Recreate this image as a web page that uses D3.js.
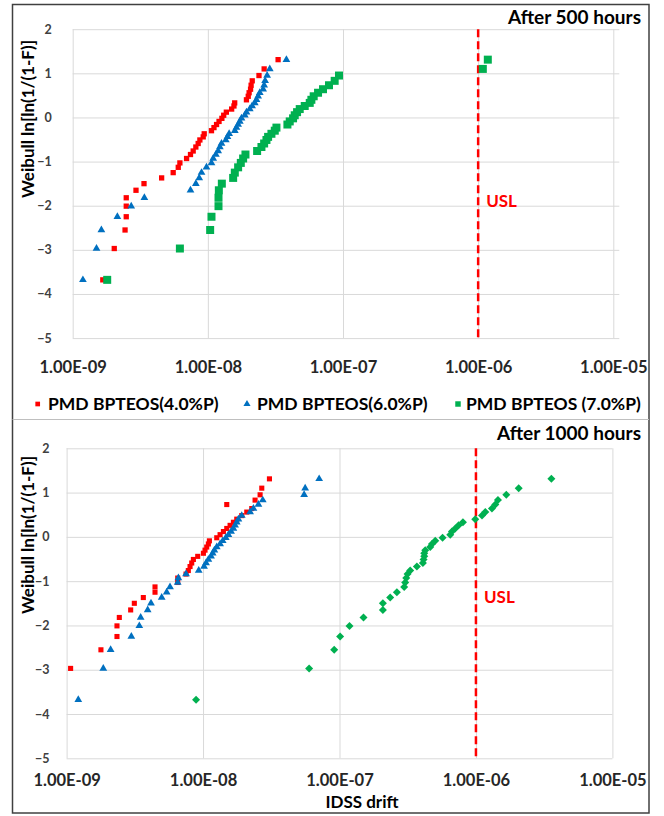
<!DOCTYPE html>
<html><head><meta charset="utf-8">
<script src="https://cdn.jsdelivr.net/npm/d3@7"></script>
<style>
html,body{margin:0;padding:0;background:#fff;}
svg{display:block;}
text{font-family:Lato,"Liberation Sans",Arial,sans-serif;font-weight:bold;}
</style></head>
<body>
<svg id="chart" width="664" height="816"></svg>
<script>
// ---------- DATA ----------
const xTickValues = [1e-9, 1e-8, 1e-7, 1e-6, 1e-5];
const xTickLabels = ["1.00E-09", "1.00E-08", "1.00E-07", "1.00E-06", "1.00E-05"];
const yTickValues = [2, 1, 0, -1, -2, -3, -4, -5];
const seriesNames = ["PMD BPTEOS(4.0%P)", "PMD BPTEOS(6.0%P)", "PMD BPTEOS (7.0%P)"];
const panelTitles = ["After 500 hours", "After 1000 hours"];
const uslValue = 1e-6;

// Weibull plotting positions ln[ln(1/(1-F))] for ranks 1..39
const weibullY = [-3.68,-2.97,-2.55,-2.25,-2.01,-1.82,-1.65,-1.50,-1.37,-1.25,-1.13,-1.03,-0.93,-0.84,-0.76,-0.67,-0.59,-0.51,-0.44,-0.37,-0.30,-0.23,-0.16,-0.09,-0.02,0.05,0.12,0.19,0.26,0.33,0.40,0.48,0.56,0.64,0.73,0.83,0.95,1.10,1.31];

// After 500 hours – IDSS drift
const red500 = [1.67e-9,2.03e-9,2.44e-9,2.49e-9,2.49e-9,2.49e-9,2.94e-9,3.37e-9,4.55e-9,5.54e-9,6.04e-9,6.21e-9,6.96e-9,7.44e-9,7.79e-9,8.15e-9,8.48e-9,8.73e-9,9.24e-9,9.40e-9,1.064e-8,1.11e-8,1.16e-8,1.21e-8,1.27e-8,1.31e-8,1.37e-8,1.50e-8,1.56e-8,1.58e-8,1.93e-8,1.99e-8,2.02e-8,2.07e-8,2.09e-8,2.13e-8,2.39e-8,2.61e-8,3.31e-8];
const blue500 = [1.19e-9,1.50e-9,1.63e-9,2.14e-9,2.71e-9,3.39e-9,7.44e-9,8.15e-9,8.63e-9,8.98e-9,9.77e-9,1.064e-8,1.095e-8,1.146e-8,1.192e-8,1.227e-8,1.262e-8,1.358e-8,1.397e-8,1.437e-8,1.583e-8,1.628e-8,1.675e-8,1.724e-8,1.773e-8,1.877e-8,1.931e-8,2.043e-8,2.126e-8,2.225e-8,2.289e-8,2.354e-8,2.422e-8,2.564e-8,2.609e-8,2.653e-8,2.745e-8,2.872e-8,3.813e-8];
const green500 = [1.80e-9,6.21e-9,1.040e-8,1.064e-8,1.199e-8,1.199e-8,1.206e-8,1.269e-8,1.539e-8,1.583e-8,1.675e-8,1.753e-8,1.824e-8,1.898e-8,2.315e-8,2.492e-8,2.609e-8,2.714e-8,2.792e-8,2.954e-8,3.127e-8,3.217e-8,3.879e-8,4.035e-8,4.271e-8,4.394e-8,4.572e-8,4.784e-8,5.21e-8,5.673e-8,5.834e-8,6.07e-8,6.537e-8,7.116e-8,7.88e-8,8.677e-8,9.342e-8,1.083e-6,1.179e-6];

// After 1000 hours – IDSS drift (first red value lies below the axis minimum)
const red1000 = [null,1.07e-9,1.785e-9,2.34e-9,2.34e-9,2.434e-9,2.948e-9,3.136e-9,3.65e-9,4.446e-9,4.446e-9,6.52e-9,6.52e-9,7.505e-9,7.80e-9,8.03e-9,8.26e-9,8.495e-9,9.14e-9,1.006e-8,1.034e-8,1.064e-8,1.094e-8,1.113e-8,1.26e-8,1.333e-8,1.41e-8,1.492e-8,1.578e-8,1.669e-8,1.766e-8,1.921e-8,2.091e-8,2.275e-8,1.492e-8,2.406e-8,2.619e-8,2.694e-8,3.066e-8];
const blue1000 = [1.218e-9,1.857e-9,2.102e-9,2.981e-9,3.412e-9,3.49e-9,3.928e-9,4.155e-9,4.976e-9,5.414e-9,5.727e-9,6.52e-9,6.594e-9,7.505e-9,9.295e-9,1.017e-8,1.052e-8,1.094e-8,1.145e-8,1.177e-8,1.211e-8,1.26e-8,1.333e-8,1.394e-8,1.467e-8,1.534e-8,1.605e-8,1.669e-8,1.717e-8,1.766e-8,1.816e-8,1.921e-8,2.212e-8,2.34e-8,2.546e-8,2.74e-8,5.506e-8,5.601e-8,7.095e-8];
const green1000 = [8.886e-9,5.99e-8,9.14e-8,1.011e-7,1.184e-7,1.5e-7,2.079e-7,2.079e-7,2.352e-7,2.633e-7,2.98e-7,3.031e-7,3.083e-7,3.153e-7,3.298e-7,3.691e-7,4.085e-7,4.132e-7,4.178e-7,4.178e-7,4.249e-7,4.624e-7,4.757e-7,5.032e-7,5.695e-7,6.481e-7,6.668e-7,7.053e-7,7.463e-7,8.028e-7,9.887e-7,1.107e-6,1.171e-6,1.31e-6,1.386e-6,1.45e-6,1.669e-6,2.056e-6,3.569e-6];

// ---------- STYLE ----------
const RED = "#FF0000", BLUE = "#0070C0", GREEN = "#00B050";
const GRID = "#D9D9D9";

const panels = [
  { title: panelTitles[0], titleY: 24, left: 72.7, right: 613.3, top: 29.2, bottom: 338.1, gridOver: 6,
    xLabelY: 372, uslLabelY: 207, yLabelGap: 21, yTitleCy: 119,
    series: [
      { values: red500, color: RED, shape: "square", size: 28 },
      { values: blue500, color: BLUE, shape: "triangle", size: 26 },
      { values: green500, color: GREEN, shape: "square", size: 64 } ] },
  { title: panelTitles[1], titleY: 440, left: 66.6, right: 612.4, top: 448.3, bottom: 758.3, gridOver: 0,
    xLabelY: 785, uslLabelY: 603, yLabelGap: 17, yTitleCy: 535,
    series: [
      { values: red1000, color: RED, shape: "square", size: 26 },
      { values: blue1000, color: BLUE, shape: "triangle", size: 26 },
      { values: green1000, color: GREEN, shape: "diamond", size: 32 } ] }
];

const svg = d3.select("#chart");
svg.append("rect").attr("width", 664).attr("height", 816).attr("fill", "#fff");

function symbolPath(shape, size) {
  if (shape === "triangle") return d3.symbol(d3.symbolTriangle, size)();
  return d3.symbol(d3.symbolSquare, size)();
}

panels.forEach((p, pi) => {
  const x = d3.scaleLog().domain([1e-9, 1e-5]).range([p.left, p.right]);
  const y = d3.scaleLinear().domain([-5, 2]).range([p.bottom, p.top]);
  const g = svg.append("g");

  // horizontal grid
  const yGrid = g.append("g").attr("transform", `translate(${p.left},0)`)
    .call(d3.axisRight(y).tickValues(yTickValues).tickSize(p.right - p.left + p.gridOver).tickFormat(""));
  yGrid.select(".domain").remove();
  yGrid.selectAll("line").attr("stroke", GRID).attr("stroke-width", 1);

  // vertical grid
  const xGrid = g.append("g").attr("transform", `translate(0,${p.top})`)
    .call(d3.axisBottom(x).tickValues(xTickValues).tickSize(p.bottom - p.top).tickFormat(""));
  xGrid.select(".domain").remove();
  xGrid.selectAll("line").attr("stroke", GRID).attr("stroke-width", 1);

  // y tick labels
  const yAx = g.append("g").attr("transform", `translate(${p.left - p.yLabelGap},0)`)
    .call(d3.axisLeft(y).tickValues(yTickValues).tickSize(0).tickPadding(0).tickFormat(d3.format("d")));
  yAx.select(".domain").remove();
  yAx.selectAll("text").attr("font-size", 12.5).attr("fill", "#404040")
    .style("font-family", "Lato, 'Liberation Sans', sans-serif").style("font-weight", "bold");

  // x tick labels
  const xAx = g.append("g").attr("transform", `translate(0,${p.xLabelY - 14})`)
    .call(d3.axisBottom(x).tickValues(xTickValues).tickSize(0).tickPadding(0)
      .tickFormat((d, i) => xTickLabels[i]));
  xAx.select(".domain").remove();
  xAx.selectAll("text").attr("font-size", 16.5).attr("fill", "#262626").attr("dy", "0.9em")
    .style("font-family", "Lato, 'Liberation Sans', sans-serif").style("font-weight", "bold");

  // USL line
  g.append("line")
    .attr("x1", x(uslValue)).attr("x2", x(uslValue))
    .attr("y1", y(2)).attr("y2", y(-5))
    .attr("stroke", RED).attr("stroke-width", 2.5).attr("stroke-dasharray", "8,4");
  g.append("text").attr("x", x(uslValue) + 8).attr("y", p.uslLabelY)
    .attr("fill", RED).attr("font-size", 17).text("USL");

  // series
  p.series.forEach(s => {
    const pts = s.values.map((v, i) => ({ v, yv: weibullY[i] }))
      .filter(d => d.v !== null && d.v >= 1e-9 && d.v <= 1e-5);
    g.append("g").selectAll("path").data(pts).join("path")
      .attr("d", symbolPath(s.shape, s.size))
      .attr("transform", d => `translate(${x(d.v)},${y(d.yv)})` + (s.shape === "diamond" ? " rotate(45)" : ""))
      .attr("fill", s.color);
  });

  // panel title
  g.append("text").attr("x", 641).attr("y", p.titleY).attr("text-anchor", "end")
    .attr("font-size", 19).attr("fill", "#000").text(p.title);

  // y-axis title
  g.append("text").attr("transform", `translate(34,${p.yTitleCy}) rotate(-90)`)
    .attr("text-anchor", "middle").attr("font-size", 17).attr("fill", "#000")
    .text("Weibull ln[ln(1/(1-F)]");
});

// legend (between panels)
const legendItems = [
  { name: seriesNames[0], color: RED, shape: "square", size: 22, mx: 37.7, tx: 48 },
  { name: seriesNames[1], color: BLUE, shape: "triangle", size: 22, mx: 247, tx: 257 },
  { name: seriesNames[2], color: GREEN, shape: "square", size: 30, mx: 458, tx: 466 }
];
const lg = svg.append("g");
legendItems.forEach(it => {
  lg.append("path").attr("d", symbolPath(it.shape, it.size))
    .attr("transform", `translate(${it.mx},404)`).attr("fill", it.color);
  lg.append("text").attr("x", it.tx).attr("y", 410).attr("font-size", 17.5).attr("fill", "#000").text(it.name);
});

// x-axis title
svg.append("text").attr("x", 362).attr("y", 808).attr("text-anchor", "middle")
  .attr("font-size", 17).attr("fill", "#000").text("IDSS drift");

// frame and separator
svg.append("rect").attr("x", 12.5).attr("y", 4.5).attr("width", 636.5).attr("height", 808.5)
  .attr("fill", "none").attr("stroke", "#404040").attr("stroke-width", 1.5);
svg.append("line").attr("x1", 12.5).attr("x2", 649).attr("y1", 419.5).attr("y2", 419.5)
  .attr("stroke", "#BFBFBF").attr("stroke-width", 1);
</script>
</body></html>
